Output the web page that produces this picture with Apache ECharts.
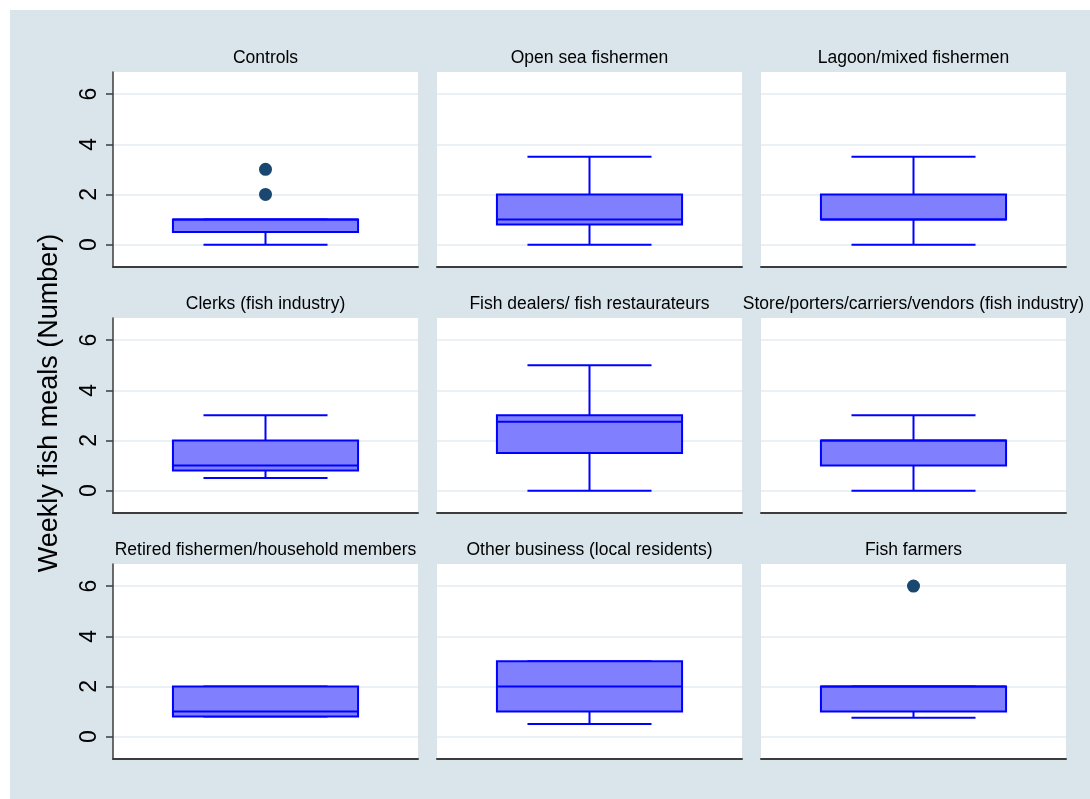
<!DOCTYPE html>
<html>
<head>
<meta charset="utf-8">
<title>Weekly fish meals by occupation</title>
<script src="https://cdn.jsdelivr.net/npm/echarts@6/dist/echarts.min.js"></script>
<style>
  html, body { margin: 0; padding: 0; background: #ffffff; width: 1090px; height: 799px; overflow: hidden; }
  #chart { position: absolute; left: 10px; top: 10px; width: 1080px; height: 789px; }
</style>
</head>
<body>
<div id="chart"></div>
<script>
// Occupation groups, one panel each (3 x 3)
const groups = [
  'Controls',
  'Open sea fishermen',
  'Lagoon/mixed fishermen',
  'Clerks (fish industry)',
  'Fish dealers/ fish restaurateurs',
  'Store/porters/carriers/vendors (fish industry)',
  'Retired fishermen/household members',
  'Other business (local residents)',
  'Fish farmers'
];

// Box plot summaries: weekly fish meals
const lowWhisker    = [0,   0,   0,   0.5, 0,    0, 0.8, 0.5, 0.75];
const lowerQuartile = [0.5, 0.8, 1,   0.8, 1.5,  1, 0.8, 1,   1];
const medians       = [1,   1,   1,   1,   2.75, 2, 1,   2,   2];
const upperQuartile = [1,   2,   2,   2,   3,    2, 2,   3,   2];
const highWhisker   = [1,   3.5, 3.5, 3,   5,    3, 2,   3,   2];
const outliers      = [[2, 3], [], [], [], [], [], [], [], [6]];

// Y axis
const yTicks = [0, 2, 4, 6];
const yMin = -0.89;
const yMax = 6.88;
const yTitle = 'Weekly fish meals (Number)';

const FONT = '"Liberation Sans", Arial, "DejaVu Sans", sans-serif';
const BOX_FILL = '#8080ff';
const BOX_LINE = '#0000ff';
const DOT = '#1a476f';
const AXIS = '#3c3c3c';
const GRIDLINE = '#eaf0f3';

const colLeft = [103, 427, 751];
const rowTop = [62, 308, 554];
const panelW = 305;
const panelH = 195;

const grids = [], xAxes = [], yAxes = [], titles = [], series = [];

groups.forEach(function (name, i) {
  const r = Math.floor(i / 3), c = i % 3;
  grids.push({
    left: colLeft[c], top: rowTop[r], width: panelW, height: panelH,
    show: true, backgroundColor: '#ffffff', borderWidth: 0
  });
  xAxes.push({
    gridIndex: i, type: 'category', data: [name],
    axisLine: { show: true, onZero: false, lineStyle: { color: AXIS, width: 2 } },
    axisTick: { show: false }, axisLabel: { show: false }, splitLine: { show: false }
  });
  yAxes.push({
    gridIndex: i, type: 'value', min: yMin, max: yMax,
    axisLine: { show: c === 0, onZero: false, lineStyle: { color: AXIS, width: 1.5 } },
    axisTick: { show: c === 0, customValues: yTicks, length: 7, lineStyle: { color: AXIS, width: 1.5 } },
    axisLabel: {
      show: c === 0, customValues: yTicks, rotate: 90, margin: 12,
      fontFamily: FONT, fontSize: 23, color: '#000000'
    },
    splitLine: { show: true, lineStyle: { color: GRIDLINE, width: 2 } }
  });
  titles.push({
    text: name,
    left: colLeft[c] + panelW / 2, top: rowTop[r] - 23,
    textAlign: 'center',
    textStyle: { fontFamily: FONT, fontSize: 17.5, fontWeight: 'normal', color: '#000000' },
    padding: 0
  });
  series.push({
    type: 'custom',
    xAxisIndex: i, yAxisIndex: i,
    data: [[0, lowWhisker[i], lowerQuartile[i], medians[i], upperQuartile[i], highWhisker[i]]],
    encode: { x: 0, y: [1, 2, 3, 4, 5] },
    renderItem: function (params, api) {
      const cx = api.coord([api.value(0), 0])[0];
      const band = api.size([1, 0])[0];
      const boxW = band * 0.607;
      const capW = boxW * 0.67;
      const yLo = api.coord([0, api.value(1)])[1];
      const yQ1 = api.coord([0, api.value(2)])[1];
      const yMd = api.coord([0, api.value(3)])[1];
      const yQ3 = api.coord([0, api.value(4)])[1];
      const yHi = api.coord([0, api.value(5)])[1];
      const line = { stroke: BOX_LINE, lineWidth: 2 };
      return {
        type: 'group',
        children: [
          { type: 'line', shape: { x1: cx, y1: yQ3, x2: cx, y2: yHi }, style: line },
          { type: 'line', shape: { x1: cx, y1: yQ1, x2: cx, y2: yLo }, style: line },
          { type: 'line', shape: { x1: cx - capW / 2, y1: yHi, x2: cx + capW / 2, y2: yHi }, style: line },
          { type: 'line', shape: { x1: cx - capW / 2, y1: yLo, x2: cx + capW / 2, y2: yLo }, style: line },
          { type: 'rect', shape: { x: cx - boxW / 2, y: yQ3, width: boxW, height: yQ1 - yQ3 },
            style: { fill: BOX_FILL, stroke: BOX_LINE, lineWidth: 2 } },
          { type: 'line', shape: { x1: cx - boxW / 2, y1: yMd, x2: cx + boxW / 2, y2: yMd }, style: line }
        ]
      };
    },
    silent: true, animation: false
  });
  if (outliers[i].length) {
    series.push({
      type: 'scatter', xAxisIndex: i, yAxisIndex: i,
      data: outliers[i].map(function (v) { return [0, v]; }),
      symbol: 'circle', symbolSize: 13,
      itemStyle: { color: DOT, opacity: 1 },
      silent: true, animation: false, z: 5
    });
  }
});

const chart = echarts.init(document.getElementById('chart'), null, { renderer: 'canvas' });
chart.setOption({
  backgroundColor: '#d9e5eb',
  animation: false,
  title: titles,
  grid: grids,
  xAxis: xAxes,
  yAxis: yAxes,
  series: series,
  graphic: [{
    type: 'text', x: 40, y: 393, rotation: Math.PI / 2,
    style: {
      text: yTitle, fontFamily: FONT, fontSize: 27, fill: '#000000',
      textAlign: 'center', textVerticalAlign: 'middle'
    }
  }]
});
</script>
</body>
</html>
